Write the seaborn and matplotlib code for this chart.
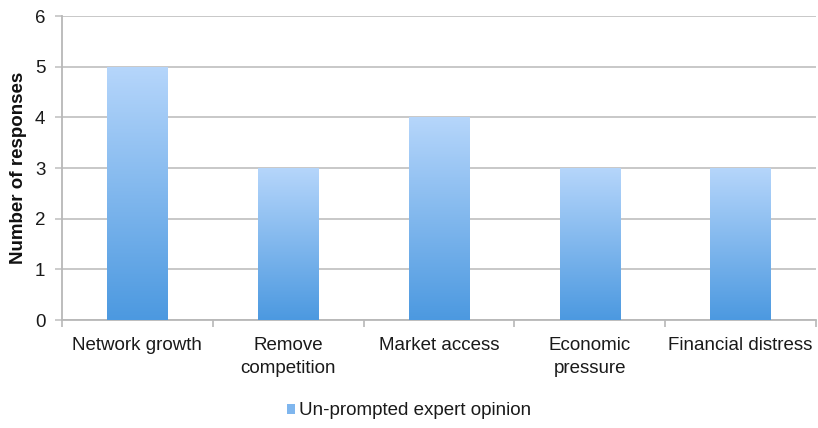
import numpy as np
import pandas as pd
import matplotlib
matplotlib.use("Agg")
import matplotlib.pyplot as plt
from matplotlib.colors import LinearSegmentedColormap
from matplotlib.patches import Patch
import seaborn as sns

categories = ["Network growth", "Remove\ncompetition", "Market access",
              "Economic\npressure", "Financial distress"]
responses = [5, 3, 4, 3, 3]
series_name = "Un-prompted expert opinion"
y_ticks = [0, 1, 2, 3, 4, 5, 6]

df = pd.DataFrame({"reason": categories, "count": responses})

sns.set_theme(style="white")
plt.rcParams["font.family"] = ["Liberation Sans", "DejaVu Sans"]

fig = plt.figure(figsize=(8.18, 4.28), dpi=100)
ax = fig.add_axes([0.0758, 0.2523, 0.9218, 0.7103])

sns.barplot(data=df, x="reason", y="count", width=0.4, color="#6aa9e8",
            ax=ax, zorder=3)

# vertical gradient fill inside each bar: light on top, deeper blue at the base
cmap = LinearSegmentedColormap.from_list("bar_grad", ["#4c99e0", "#b6d6fb"])
grad = np.linspace(0, 1, 256).reshape(-1, 1)
for patch in list(ax.patches):
    x0, y0 = patch.get_x(), patch.get_y()
    w, h = patch.get_width(), patch.get_height()
    im = ax.imshow(grad, cmap=cmap, origin="lower", aspect="auto",
                   extent=[x0, x0 + w, y0, y0 + h], zorder=3)
    im.set_clip_path(patch)
    patch.set_facecolor("none")
    patch.set_edgecolor("none")

ax.set_xlim(-0.5, len(categories) - 0.5)
ax.set_ylim(0, 6)
ax.set_yticks(y_ticks)
ax.yaxis.grid(True, color="#c4c4c4", linewidth=1.3, zorder=0)
ax.set_axisbelow(True)

for side in ["top", "right"]:
    ax.spines[side].set_visible(False)
for side in ["left", "bottom"]:
    ax.spines[side].set_color("#b8b8b8")
    ax.spines[side].set_linewidth(1.3)

# category separators as small ticks on the x axis
ax.set_xticks(np.arange(-0.5, len(categories), 1.0), minor=True)
ax.tick_params(axis="x", which="minor", length=5, width=1.2, color="#b8b8b8",
               bottom=True)
ax.tick_params(axis="x", which="major", length=0, pad=12, labelsize=13.5,
               labelcolor="#1a1a1a")
ax.tick_params(axis="y", which="major", length=5, width=1.2, color="#c4c4c4",
               left=True, pad=7, labelsize=13.5, labelcolor="#1a1a1a")
for lbl in ax.get_xticklabels():
    lbl.set_linespacing(1.45)

ax.set_xlabel("")
ax.set_ylabel("Number of responses", fontsize=13.5, fontweight="bold",
              color="#111111")
ax.yaxis.set_label_coords(-0.046, 0.5)

handle = Patch(facecolor="#7fb6ee", edgecolor="none")
fig.legend([handle], [series_name], loc="center", bbox_to_anchor=(0.5, 0.04),
           frameon=False, fontsize=13.5, handlelength=0.45, handleheight=0.45,
           handletextpad=0.2, labelcolor="#1a1a1a")

fig.savefig("out.png", dpi=100)
